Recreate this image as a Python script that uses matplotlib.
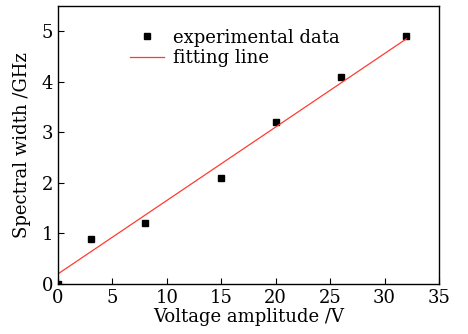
import matplotlib
matplotlib.use('Agg')
import matplotlib.pyplot as plt
import numpy as np

# Measured points
voltage = [0, 3, 8, 15, 20, 26, 32]
width = [0, 0.9, 1.2, 2.1, 3.2, 4.1, 4.9]

# Fitted line end points
fit_x = [0, 32]
fit_y = [0.2, 4.85]

plt.rcParams['font.family'] = ['DejaVu Serif']

fig = plt.figure(figsize=(4.68, 3.34), dpi=100)
ax = fig.add_axes([58/468, 50/334, 381/468, 278/334])

ax.plot(voltage, width, 's', color='black', markersize=5, label='experimental data')
ax.plot(fit_x, fit_y, '-', color='#ff3b30', linewidth=0.9, label='fitting line')

ax.set_xlim(0, 35)
ax.set_ylim(0, 5.5)
ax.set_xticks(np.arange(0, 36, 5))
ax.set_yticks(np.arange(0, 6, 1))
ax.tick_params(direction='in', length=4, width=0.8, labelsize=13, top=False, right=False)
for s in ax.spines.values():
    s.set_linewidth(1.0)

ax.set_xlabel('Voltage amplitude /V', fontsize=13, labelpad=1)
ax.set_ylabel('Spectral width /GHz', fontsize=13, labelpad=8)

ax.legend(loc='upper left', bbox_to_anchor=(0.17, 0.945), frameon=False, fontsize=13,
          handlelength=1.9, handletextpad=0.5, borderaxespad=0, labelspacing=0.15,
          markerscale=0.8)

fig.savefig('out.png', dpi=100)
